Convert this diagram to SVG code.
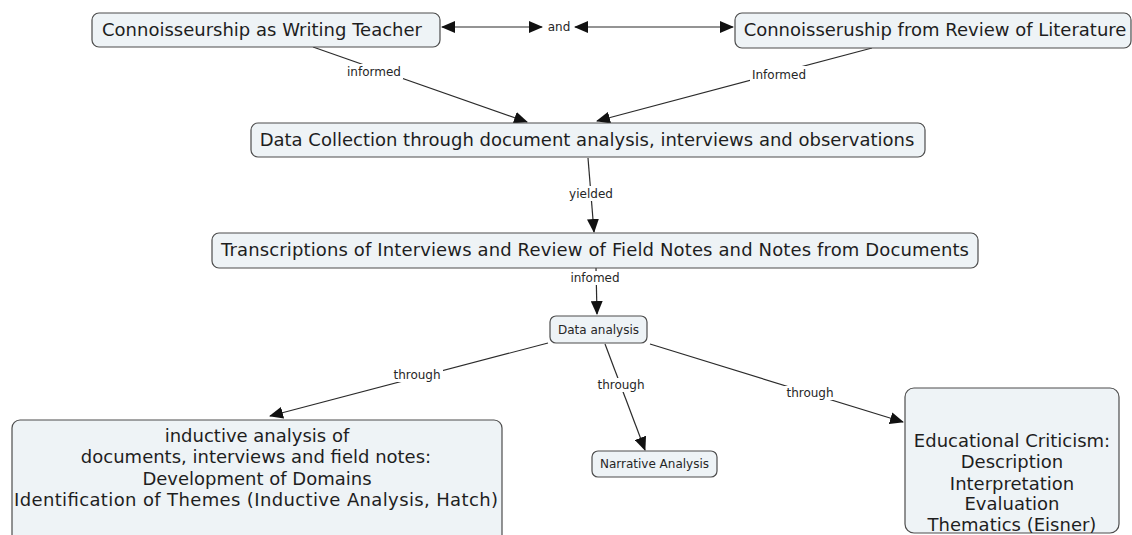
<svg xmlns="http://www.w3.org/2000/svg" width="1132" height="535" viewBox="0 0 1132 535">
<style>
.box{fill:#eef3f6;stroke:#4d4d4d;stroke-width:1.2}
.big{font-family:"DejaVu Sans",Verdana,sans-serif;font-size:18px;fill:#1e1e1e;text-anchor:middle}
.sm{font-family:"DejaVu Sans",Verdana,sans-serif;font-size:12px;fill:#262626;text-anchor:middle}
.ln{stroke:#2b2b2b;stroke-width:1.2;fill:none}
.lbg{fill:#ffffff}
</style>
<defs>
<marker id="ah" markerUnits="userSpaceOnUse" markerWidth="14" markerHeight="12" refX="13" refY="6" orient="auto-start-reverse" viewBox="0 0 14 12">
<path d="M0,0 L14,6 L0,12 Z" fill="#111"/>
</marker>
</defs>
<rect width="1132" height="535" fill="#ffffff"/>
<g id="connectors">
<line class="ln" x1="442" y1="27" x2="542" y2="27" marker-start="url(#ah)" marker-end="url(#ah)"/>
<text class="sm" x="559" y="31">and</text>
<line class="ln" x1="575" y1="27" x2="733" y2="27" marker-start="url(#ah)" marker-end="url(#ah)"/>

<line class="ln" x1="313" y1="47" x2="527" y2="122" marker-end="url(#ah)"/>
<rect class="lbg" x="345" y="64" width="58" height="15"/>
<text class="sm" x="374" y="76">informed</text>

<line class="ln" x1="872" y1="48" x2="597" y2="121" marker-end="url(#ah)"/>
<rect class="lbg" x="750" y="66" width="58" height="15"/>
<text class="sm" x="779" y="79">Informed</text>

<line class="ln" x1="588" y1="158" x2="594" y2="232" marker-end="url(#ah)"/>
<rect class="lbg" x="568" y="186" width="46" height="15"/>
<text class="sm" x="591" y="198">yielded</text>

<line class="ln" x1="596" y1="268" x2="597" y2="314" marker-end="url(#ah)"/>
<rect class="lbg" x="569" y="271" width="52" height="14"/>
<text class="sm" x="595" y="282">infomed</text>

<line class="ln" x1="548" y1="343" x2="270" y2="416" marker-end="url(#ah)"/>
<rect class="lbg" x="391" y="368" width="52" height="14"/>
<text class="sm" x="417" y="379">through</text>

<line class="ln" x1="605" y1="344" x2="645" y2="450" marker-end="url(#ah)"/>
<rect class="lbg" x="595" y="378" width="52" height="14"/>
<text class="sm" x="621" y="389">through</text>

<line class="ln" x1="650" y1="344" x2="903" y2="422" marker-end="url(#ah)"/>
<rect class="lbg" x="784" y="386" width="52" height="14"/>
<text class="sm" x="810" y="397">through</text>
</g>

<g id="n1">
<rect class="box" x="92" y="13" width="348" height="34" rx="7"/>
<text class="big" x="262" y="36">Connoisseurship as Writing Teacher</text>
</g>
<g id="n2">
<rect class="box" x="735" y="13" width="396" height="35" rx="7"/>
<text class="big" x="935" y="36">Connoisseruship from Review of Literature</text>
</g>
<g id="n3">
<rect class="box" x="251" y="123" width="674" height="34" rx="7"/>
<text class="big" x="587" y="146">Data Collection through document analysis, interviews and observations</text>
</g>
<g id="n4">
<rect class="box" x="212" y="233" width="766" height="35" rx="7"/>
<text class="big" x="595" y="256" textLength="748" lengthAdjust="spacing">Transcriptions of Interviews and Review of Field Notes and Notes from Documents</text>
</g>
<g id="n5">
<rect class="box" x="550" y="316" width="97" height="27" rx="6"/>
<text class="sm" x="598.5" y="334">Data analysis</text>
</g>
<g id="n6">
<rect class="box" x="592" y="451" width="125" height="26" rx="6"/>
<text class="sm" x="654.5" y="468">Narrative Analysis</text>
</g>
<g id="n7">
<rect class="box" x="12" y="420" width="490" height="135" rx="8"/>
<text class="big" x="257" y="442">inductive analysis of</text>
<text class="big" x="256" y="463">documents, interviews and field notes:</text>
<text class="big" x="257" y="485">Development of Domains</text>
<text class="big" x="256" y="506" textLength="484" lengthAdjust="spacing">Identification of Themes (Inductive Analysis, Hatch)</text>
</g>
<g id="n8">
<rect class="box" x="905" y="388" width="214" height="145" rx="9"/>
<text class="big" x="1012" y="447">Educational Criticism:</text>
<text class="big" x="1012" y="468">Description</text>
<text class="big" x="1012" y="490">Interpretation</text>
<text class="big" x="1012" y="510">Evaluation</text>
<text class="big" x="1012" y="531">Thematics (Eisner)</text>
</g>
</svg>
